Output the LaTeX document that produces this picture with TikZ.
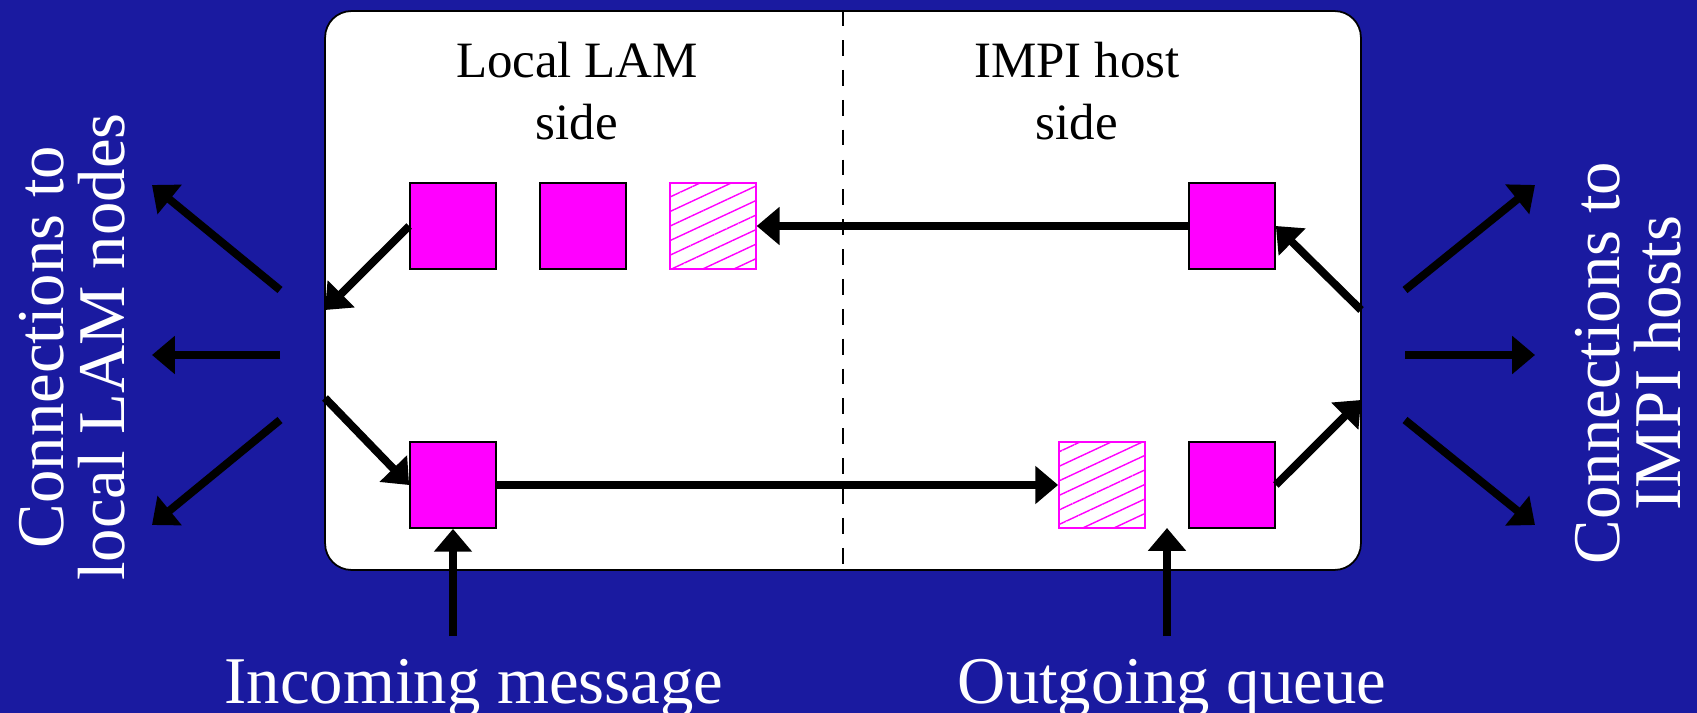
\documentclass[tikz,border=0pt]{standalone}
\usepackage{fontspec}
\setmainfont{Liberation Serif}
\usetikzlibrary{arrows.meta, patterns.meta}
\definecolor{slide}{RGB}{26, 26, 160}
\definecolor{packet}{RGB}{255, 0, 255}

\begin{document}
\begin{tikzpicture}[
    x=0.02cm, y=-0.02cm,
    msg/.style={rectangle, draw=black, fill=packet, line width=1pt, minimum size=1.72cm, inner sep=0pt},
    slot/.style={rectangle, draw=packet, line width=1pt, minimum size=1.72cm, inner sep=0pt, pattern={Lines[angle=25, distance=7.5pt, line width=0.8pt]}, pattern color=packet},
    flow/.style={line width=4.5pt, -{Triangle[length=13pt, width=21pt]}},
    biglbl/.style={font=\fontsize{38}{35}\selectfont, text=white, align=center, inner sep=0pt},
    sidelbl/.style={font=\fontsize{29}{35.7}\selectfont, align=center, inner sep=0pt}
  ]

  % Slide background
  \fill[slide] (0,0) rectangle (1697,713);
  \useasboundingbox (0,0) rectangle (1697,713);

  % Daemon box
  \node[draw, line width=1pt, fill=white, rounded corners=15pt, minimum width=20.72cm, minimum height=11.18cm, inner sep=0pt] (daemon) at (843, 290.5) {};
  \draw[line width=1pt, dash pattern=on 9pt off 8pt] (daemon.north) -- (daemon.south);

  \node[sidelbl] (lamside) at (577, 91) {Local LAM\\side};
  \node[sidelbl] (impside) at (1077, 91) {IMPI host\\side};

  % Queues
  \node[msg]  (lq1) at (453, 226) {};
  \node[msg]  (lq2) at (583, 226) {};
  \node[slot] (lqh) at (713, 226) {};
  \node[msg]  (hq)  at (1232, 226) {};
  \node[msg]  (inb) at (453, 485) {};
  \node[slot] (oqh) at (1102, 485) {};
  \node[msg]  (oq)  at (1232, 485) {};

  % Flow through the daemon
  \coordinate (lamin)  at (325, 310);
  \coordinate (lamout) at (325, 398);
  \coordinate (impin)  at (1361, 310);
  \coordinate (impout) at (1361, 400);
  \draw[flow] (hq.west) -- (lqh.east);
  \draw[flow] (inb.east) -- (oqh.west);
  \draw[flow] (lq1.west) -- (lamin);
  \draw[flow] (lamout) -- (inb.west);
  \draw[flow] (oq.east) -- (impout);
  \draw[flow] (impin) -- (hq.east);

  % Outside connections
  \foreach \a/\b [count=\i] in {290/185, 355/355, 420/525} {
    \coordinate (lfrom\i) at (280, \a);
    \coordinate (lto\i) at (152, \b);
    \draw[flow] (lfrom\i) -- (lto\i);
    \coordinate (rfrom\i) at (1405, \a);
    \coordinate (rto\i) at (1535, \b);
    \draw[flow] (rfrom\i) -- (rto\i);
  }

  \node[biglbl, rotate=90] (lamlbl) at (72, 347) {Connections to\\local LAM nodes};
  \node[biglbl, rotate=90] (implbl) at (1628, 363) {Connections to\\IMPI hosts};

  % Bottom labels
  \node[biglbl, anchor=base] (inlbl) at (474, 703) {Incoming message};
  \node[biglbl, anchor=base] (outlbl) at (1172, 703) {Outgoing queue};
  \coordinate (infoot) at (453, 636);
  \coordinate (outfoot) at (1167, 636);
  \coordinate (outgap) at (1167, 528);
  \draw[flow] (infoot) -- (inb.south);
  \draw[flow] (outfoot) -- (outgap);

\end{tikzpicture}
\end{document}
